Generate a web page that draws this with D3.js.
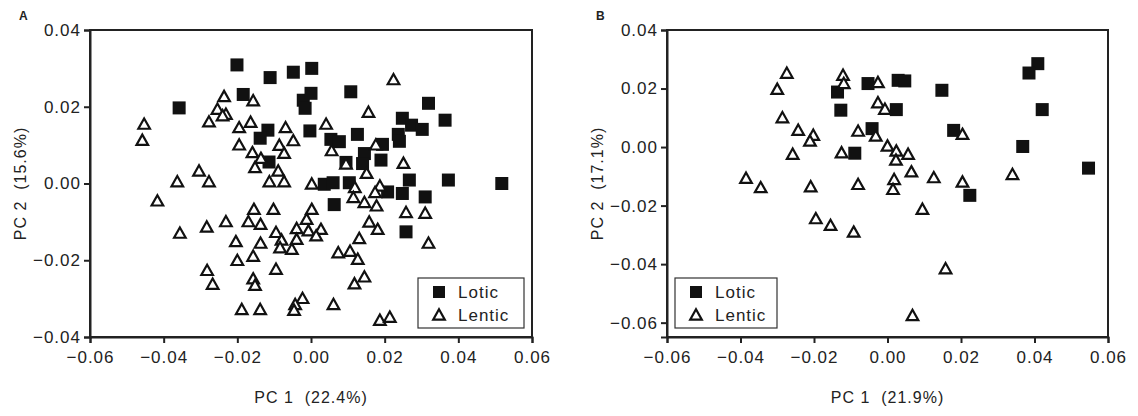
<!DOCTYPE html>
<html>
<head>
<meta charset="utf-8">
<script src="https://cdn.jsdelivr.net/npm/d3@7"></script>
<style>
  body { margin: 0; background: #fff; }
  text { font-family: Arial, "Liberation Sans", sans-serif; fill: #222; }
</style>
</head>
<body>
<svg id="chart" width="1138" height="416"></svg>
<script>
// PCA scores, [PC1, PC2]
var loticA = [
  [-0.0358, 0.0197], [-0.0201, 0.0309], [-0.0111, 0.0276], [-0.0048, 0.0290], [0.0002, 0.0300],
  [-0.0184, 0.0232], [-0.0021, 0.0217], [-0.0016, 0.0196], [0.0000, 0.0235], [-0.0117, 0.0139],
  [-0.0138, 0.0118], [-0.0114, 0.0056], [-0.0003, 0.0137], [0.0108, 0.0239], [0.0319, 0.0209],
  [0.0364, 0.0165], [0.0248, 0.0170], [0.0273, 0.0152], [0.0302, 0.0141], [0.0237, 0.0128],
  [0.0240, 0.0110], [0.0126, 0.0128], [0.0054, 0.0115], [0.0077, 0.0109], [0.0194, 0.0102],
  [0.0145, 0.0078], [0.0190, 0.0061], [0.0095, 0.0055], [0.0140, 0.0052], [0.0267, 0.0009],
  [0.0373, 0.0009], [0.0518, 0.0000], [0.0036, -0.0002], [0.0060, 0.0002], [0.0104, 0.0002],
  [0.0208, -0.0022], [0.0248, -0.0026], [0.0310, -0.0035], [0.0063, -0.0055], [0.0258, -0.0126]
];
var lenticA = [
  [-0.0453, 0.0152], [-0.0458, 0.0110], [-0.0236, 0.0224], [-0.0157, 0.0213], [-0.0254, 0.0191],
  [-0.0231, 0.0178], [-0.0277, 0.0158], [-0.0240, 0.0174], [-0.0195, 0.0143], [-0.0164, 0.0157],
  [-0.0069, 0.0143], [-0.0195, 0.0098], [-0.0159, 0.0078], [-0.0136, 0.0063], [-0.0152, 0.0039],
  [-0.0086, 0.0097], [-0.0073, 0.0076], [-0.0089, 0.0030], [-0.0113, 0.0002], [-0.0073, 0.0002],
  [-0.0304, 0.0030], [-0.0363, 0.0002], [-0.0277, 0.0002], [0.0224, 0.0268], [0.0156, 0.0183],
  [0.0041, 0.0152], [-0.0048, 0.0109], [0.0056, 0.0083], [0.0176, 0.0098], [0.0095, 0.0048],
  [0.0151, 0.0024], [0.0251, 0.0050], [0.0002, -0.0004], [0.0119, -0.0013], [0.0187, -0.0009],
  [0.0174, -0.0026], [0.0115, -0.0039], [0.0145, -0.0052], [0.0178, -0.0061], [0.0258, -0.0078],
  [0.0310, -0.0080], [0.0002, -0.0070], [-0.0012, -0.0096], [-0.0039, -0.0120], [0.0027, -0.0122],
  [-0.0007, -0.0126], [0.0014, -0.0139], [-0.0039, -0.0148], [-0.0052, -0.0174], [0.0158, -0.0103],
  [0.0181, -0.0122], [0.0131, -0.0146], [0.0074, -0.0183], [0.0106, -0.0179], [0.0127, -0.0200],
  [0.0319, -0.0158], [0.0145, -0.0246], [0.0118, -0.0264], [0.0061, -0.0318], [0.0187, -0.0359],
  [0.0214, -0.0351], [-0.0023, -0.0302], [-0.0043, -0.0318], [-0.0046, -0.0333], [-0.0417, -0.0048],
  [-0.0356, -0.0132], [-0.0283, -0.0116], [-0.0231, -0.0102], [-0.0155, -0.0070], [-0.0102, -0.0070],
  [-0.0170, -0.0102], [-0.0137, -0.0109], [-0.0204, -0.0154], [-0.0137, -0.0158], [-0.0095, -0.0130],
  [-0.0080, -0.0150], [-0.0084, -0.0170], [-0.0200, -0.0203], [-0.0157, -0.0192], [-0.0282, -0.0229],
  [-0.0267, -0.0265], [-0.0157, -0.0251], [-0.0152, -0.0268], [-0.0095, -0.0226], [-0.0188, -0.0331],
  [-0.0138, -0.0331]
];
var loticB = [
  [-0.0136, 0.0188], [-0.0127, 0.0126], [-0.0089, -0.0021], [-0.0053, 0.0217], [0.0029, 0.0228],
  [0.0047, 0.0226], [0.0148, 0.0194], [0.0409, 0.0285], [0.0385, 0.0253], [0.0421, 0.0128],
  [0.0024, 0.0128], [-0.0042, 0.0063], [0.0180, 0.0057], [0.0368, 0.0002], [0.0547, -0.0072],
  [0.0224, -0.0165]
];
var lenticB = [
  [-0.0274, 0.0249], [-0.0300, 0.0194], [-0.0121, 0.0242], [-0.0119, 0.0214], [-0.0286, 0.0097],
  [-0.0243, 0.0054], [-0.0202, 0.0037], [-0.0211, 0.0017], [-0.0258, -0.0028], [-0.0125, -0.0023],
  [-0.0080, 0.0051], [-0.0385, -0.0110], [-0.0345, -0.0142], [-0.0209, -0.0139], [-0.0080, -0.0131],
  [-0.0195, -0.0248], [-0.0155, -0.0271], [-0.0092, -0.0294], [-0.0026, 0.0217], [-0.0026, 0.0148],
  [-0.0007, 0.0126], [-0.0032, 0.0034], [0.0204, 0.0040], [0.0000, 0.0000], [0.0024, -0.0017],
  [0.0056, -0.0028], [0.0023, -0.0048], [0.0065, -0.0088], [0.0126, -0.0108], [0.0204, -0.0123],
  [0.0340, -0.0097], [0.0018, -0.0114], [0.0015, -0.0148], [0.0095, -0.0216], [0.0158, -0.0419],
  [0.0068, -0.0579]
];

var xTicks = [-0.06, -0.04, -0.02, 0.00, 0.02, 0.04, 0.06];
var yTicksA = [-0.04, -0.02, 0.00, 0.02, 0.04];
var yTicksB = [-0.06, -0.04, -0.02, 0.00, 0.02, 0.04];
var groups = ["Lotic", "Lentic"];

var svg = d3.select("#chart");
var fmt = d3.format(".2f");

var triPath = "M0,-6.7L5.8,3.6L-5.8,3.6Z";

function drawPanel(opt) {
  var x = d3.scaleLinear().domain([-0.06, 0.06]).range([opt.left, opt.right]);
  var y = d3.scaleLinear().domain(opt.yDomain).range([opt.bottom, opt.top]);

  var g = svg.append("g");

  // frame
  g.append("rect")
    .attr("x", opt.left).attr("y", opt.top)
    .attr("width", opt.right - opt.left).attr("height", opt.bottom - opt.top)
    .attr("fill", "none").attr("stroke", "#222").attr("stroke-width", 2);

  var xAxis = g.append("g")
    .attr("transform", `translate(0, ${opt.bottom})`)
    .call(d3.axisBottom(x).tickValues(xTicks).tickFormat(fmt).tickSize(6).tickPadding(8));
  var yAxis = g.append("g")
    .attr("transform", `translate(${opt.left}, 0)`)
    .call(d3.axisLeft(y).tickValues(opt.yTicks).tickFormat(fmt).tickSize(6).tickPadding(3));

  [xAxis, yAxis].forEach(function(a) {
    a.select(".domain").attr("stroke", "#222").attr("stroke-width", 2);
    a.selectAll(".tick line").attr("stroke", "#222").attr("stroke-width", 2);
    a.selectAll(".tick text").attr("font-size", "17px").attr("fill", "#222")
      .attr("letter-spacing", "1px")
      .style("font-family", "Arial, 'Liberation Sans', sans-serif");
  });

  // lotic squares
  g.selectAll(".lotic")
    .data(opt.lotic)
    .enter()
    .append("rect")
    .attr("x", d => x(d[0]) - 6.5)
    .attr("y", d => y(d[1]) - 6.5)
    .attr("width", 13)
    .attr("height", 13)
    .attr("fill", "#111");

  // lentic triangles
  g.selectAll(".lentic")
    .data(opt.lentic)
    .enter()
    .append("path")
    .attr("d", triPath)
    .attr("transform", d => `translate(${x(d[0])}, ${y(d[1])})`)
    .attr("fill", "#fff")
    .attr("stroke", "#111")
    .attr("stroke-width", 2.2)
    .attr("stroke-linejoin", "miter");

  // legend
  var lg = g.append("g").attr("transform", `translate(${opt.legend[0]}, ${opt.legend[1]})`);
  lg.append("rect")
    .attr("width", opt.legend[2]).attr("height", 50)
    .attr("fill", "#fff").attr("stroke", "#333").attr("stroke-width", 1.2);
  lg.append("rect").attr("x", 15).attr("y", 8).attr("width", 12).attr("height", 12).attr("fill", "#111");
  lg.append("path").attr("d", triPath).attr("transform", "translate(21, 38)")
    .attr("fill", "#fff").attr("stroke", "#111").attr("stroke-width", 2.2);
  lg.selectAll(".lgtext")
    .data(groups)
    .enter()
    .append("text")
    .attr("x", 40)
    .attr("y", (d, i) => 20 + i * 23)
    .attr("font-size", "17px")
    .attr("letter-spacing", "1px")
    .text(d => d);

  // axis titles
  g.append("text")
    .attr("x", (opt.left + opt.right) / 2)
    .attr("y", 403)
    .attr("text-anchor", "middle")
    .attr("font-size", "16px")
    .attr("letter-spacing", "1px")
    .attr("xml:space", "preserve")
    .text(opt.xLabel);

  g.append("text")
    .attr("transform", `translate(${opt.left - 64}, ${(opt.top + opt.bottom) / 2}) rotate(-90)`)
    .attr("text-anchor", "middle")
    .attr("font-size", "16px")
    .attr("letter-spacing", "1px")
    .attr("xml:space", "preserve")
    .text(opt.yLabel);

  g.append("text")
    .attr("x", opt.left - 71)
    .attr("y", 20)
    .attr("font-size", "12px")
    .attr("font-weight", "bold")
    .text(opt.tag);
}

drawPanel({
  left: 90, right: 532, top: 30, bottom: 337,
  yDomain: [-0.04, 0.04], yTicks: yTicksA,
  lotic: loticA, lentic: lenticA,
  legend: [418, 278, 106],
  xLabel: "PC 1  (22.4%)", yLabel: "PC 2  (15.6%)", tag: "A"
});

drawPanel({
  left: 667, right: 1108, top: 30, bottom: 337,
  yDomain: [-0.0649, 0.04], yTicks: yTicksB,
  lotic: loticB, lentic: lenticB,
  legend: [675, 278, 102],
  xLabel: "PC 1  (21.9%)", yLabel: "PC 2  (17.1%)", tag: "B"
});
</script>
</body>
</html>
